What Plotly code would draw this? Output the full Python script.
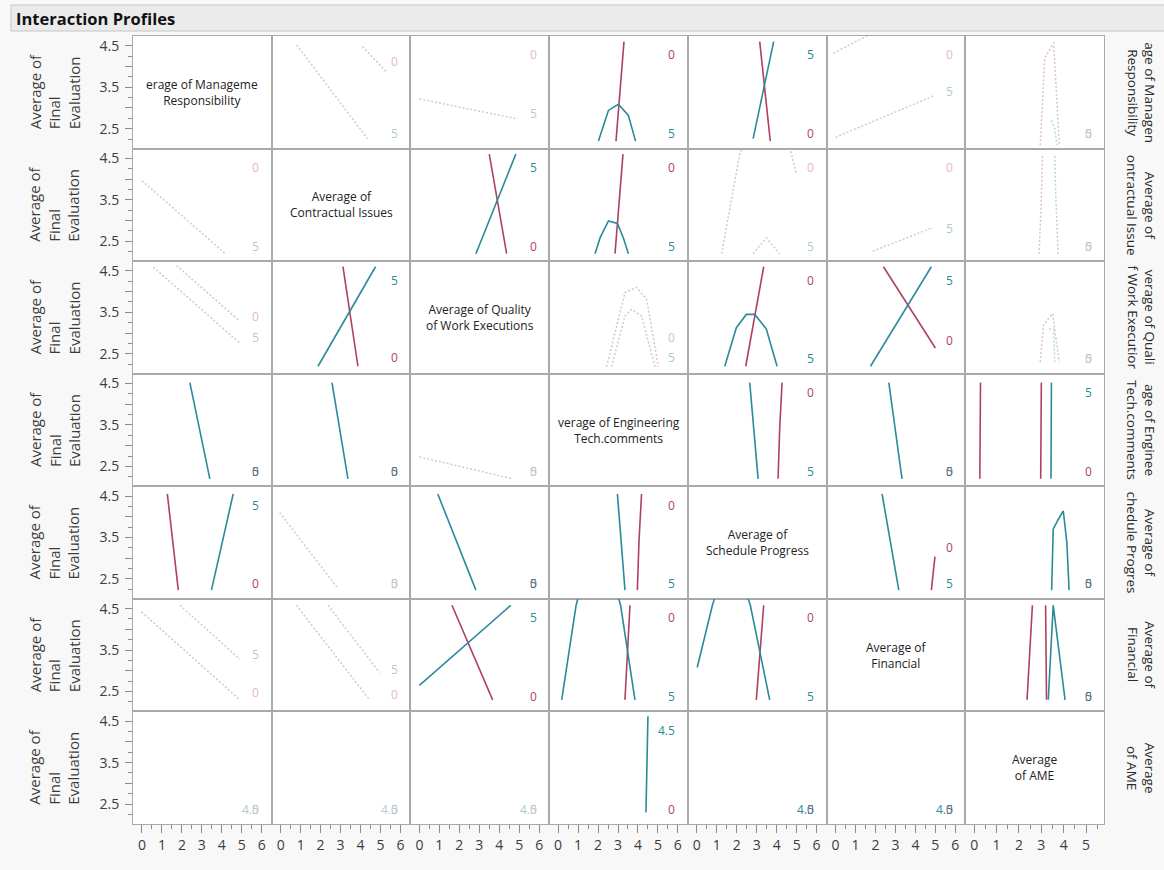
import plotly.graph_objects as go
from plotly.subplots import make_subplots

# ---------------- data ----------------
FACTORS = ["Management Responsibility", "Contractual Issues", "Quality of Work Executions",
           "Engineering Tech.comments", "Schedule Progress", "Financial", "AME"]
DIAG_TEXT = ["erage of Manageme<br>Responsibility", "Average of<br>Contractual Issues",
             "Average of Quality<br>of Work Executions", "verage of Engineering<br>Tech.comments",
             "Average of<br>Schedule Progress", "Average of<br>Financial", "Average<br>of AME"]
ROW_TITLES = ["age of Managen<br>Responsibility", "Average of<br>ontractual Issue",
              "verage of Quali<br>f Work Executior", "age of Enginee<br>Tech.comments",
              "Average of<br>chedule Progres", "Average of<br>Financial", "Average<br>of AME"]
Y_TITLE = "Average of<br>Final<br>Evaluation"
LEVELS = [("0", "5"), ("0", "5"), ("0", "5"), ("0", "5"), ("0", "5"), ("0", "5"), ("0", "4.5")]
Y_TICKS = [2.5, 3.0, 3.5, 4.0, 4.5]
Y_TICK_TEXT = ["2.5", "", "3.5", "", "4.5"]
Y_MINOR = [2.25, 2.75, 3.25, 3.75, 4.25]
X_TICKS = [0, 1, 2, 3, 4, 5, 6]
X_MINOR = [0.5, 1.5, 2.5, 3.5, 4.5, 5.5]
X_TICKS_AME = [0, 1, 2, 3, 4, 5]
X_MINOR_AME = [0.5, 1.5, 2.5, 3.5, 4.5, 5.5]

# each cell: col -> sig flag, low-level (red) line, high-level (blue) line, level-label values
ROW_MGMT = {
    1: dict(sig=False, red=([4.1, 5.3], [4.48, 3.87]), blue=([0.8, 4.35], [4.52, 2.26]), lab=(4.12, 2.38)),
    2: dict(sig=False, red=None, blue=([0.0, 4.85], [3.22, 2.74]), lab=(4.28, 2.86)),
    3: dict(sig=True, red=([2.9, 3.1, 3.3], [2.2, 3.4, 4.6]),
            blue=([2.02, 2.52, 3.02, 3.52, 3.88], [2.2, 2.94, 3.09, 2.82, 2.2]), lab=(4.28, 2.38)),
    4: dict(sig=True, red=([3.15, 3.68], [4.6, 2.2]), blue=([2.82, 3.85], [2.26, 4.6]), lab=(2.38, 4.28)),
    5: dict(sig=False, red=([-0.1, 4.95], [4.32, 5.58]), blue=([0.0, 4.95], [2.29, 3.3]), lab=(4.28, 3.4)),
    6: dict(sig=False, red=([2.95, 3.15, 3.55, 3.8], [2.1, 4.2, 4.57, 2.1]),
            blue=([3.45, 3.6, 3.7], [2.7, 2.5, 2.1]), lab=(2.38, 2.38)),
}
ROW_CONTRACT = {
    0: dict(sig=False, red=None, blue=([0.0, 4.15], [3.96, 2.21]), lab=(4.28, 2.38)),
    2: dict(sig=True, red=([3.5, 4.37], [4.6, 2.2]), blue=([2.83, 4.83], [2.2, 4.6]), lab=(2.38, 4.28)),
    3: dict(sig=True, red=([2.85, 3.05, 3.25], [2.2, 3.4, 4.6]),
            blue=([1.85, 2.1, 2.52, 2.97, 3.27, 3.52], [2.2, 2.58, 2.99, 2.93, 2.58, 2.2]), lab=(4.28, 2.38)),
    4: dict(sig=False, red=([1.24, 2.15, 3.5, 4.74, 4.98], [2.2, 4.6, 6.5, 4.6, 4.13]),
            blue=([2.82, 3.48, 4.15], [2.2, 2.58, 2.2]), lab=(4.28, 2.38)),
    5: dict(sig=False, red=None, blue=([1.87, 4.87], [2.26, 2.83]), lab=(4.28, 2.8)),
    6: dict(sig=False, red=([2.9, 3.0, 3.05], [2.2, 3.5, 4.6]), blue=([3.75, 3.65, 3.6], [2.2, 3.5, 4.6]),
            lab=(2.38, 2.38)),
}
ROW_QUALITY = {
    0: dict(sig=False, red=([1.73, 4.9], [4.63, 3.29]), blue=([0.57, 4.9], [4.59, 2.76]), lab=(3.41, 2.89)),
    1: dict(sig=True, red=([3.12, 3.87], [4.6, 2.2]), blue=([1.87, 4.75], [2.2, 4.6]), lab=(2.42, 4.28)),
    3: dict(sig=False, red=([2.43, 3.35, 3.93, 4.43, 5.02], [2.19, 3.98, 4.1, 3.82, 2.19]),
            blue=([2.68, 3.35, 3.68, 4.18, 4.85], [2.19, 3.41, 3.57, 3.41, 2.19]), lab=(2.9, 2.4)),
    4: dict(sig=True, red=([2.45, 3.35], [2.2, 4.6]),
            blue=([1.4, 1.98, 2.48, 2.9, 3.48, 4.02], [2.2, 3.13, 3.45, 3.45, 3.1, 2.2]), lab=(4.28, 2.38)),
    5: dict(sig=True, red=([2.4, 5.0], [4.6, 2.64]), blue=([1.75, 4.8], [2.2, 4.6]), lab=(2.83, 4.28)),
    6: dict(sig=False, red=([2.95, 3.1, 3.5, 3.8], [2.3, 3.2, 3.47, 2.3]),
            blue=([3.35, 3.55, 3.6], [3.1, 3.1, 2.3]), lab=(2.38, 2.38)),
}
ROW_ENGINEERING = {
    0: dict(sig=True, red=None, blue=([2.4, 3.4], [4.52, 2.2]), lab=(2.38, 2.38)),
    1: dict(sig=True, red=None, blue=([2.57, 3.37], [4.52, 2.2]), lab=(2.38, 2.38)),
    2: dict(sig=False, red=None, blue=([0.0, 4.67], [2.73, 2.2]), lab=(2.38, 2.38)),
    4: dict(sig=True, red=([4.07, 4.15, 4.27], [2.2, 3.4, 4.52]), blue=([2.65, 3.07], [4.52, 2.2]),
            lab=(4.28, 2.38)),
    5: dict(sig=True, red=None, blue=([2.67, 3.33], [4.52, 2.2]), lab=(2.38, 2.38)),
    6: dict(sig=True, red=([0.25, 0.28, None, 3.0, 2.97], [2.2, 4.52, None, 4.52, 2.2]),
            blue=([3.43, 3.45], [2.2, 4.52]), lab=(2.38, 4.28)),
}
ROW_SCHEDULE = {
    0: dict(sig=True, red=([1.27, 1.82], [4.55, 2.23]), blue=([3.48, 4.57], [2.23, 4.55]), lab=(2.38, 4.28)),
    1: dict(sig=False, red=None, blue=([-0.05, 2.87], [4.1, 2.27]), lab=(2.38, 2.38)),
    2: dict(sig=True, red=None, blue=([0.92, 2.83], [4.55, 2.23]), lab=(2.38, 2.38)),
    3: dict(sig=True, red=([3.97, 4.05, 4.18], [2.23, 3.4, 4.55]), blue=([2.97, 3.35], [4.55, 2.23]),
            lab=(4.28, 2.38)),
    5: dict(sig=True, red=([4.8, 4.98], [2.23, 3.04]), blue=([2.33, 3.17], [4.55, 2.23]), lab=(3.26, 2.4)),
    6: dict(sig=True, red=None,
            blue=([3.46, 3.53, 3.76, 3.98, 4.14, 4.24], [2.23, 3.7, 3.94, 4.14, 3.38, 2.23]), lab=(2.38, 2.38)),
}
ROW_FINANCIAL = {
    0: dict(sig=False, red=([-0.02, 4.9], [4.42, 2.3]), blue=([1.9, 4.9], [4.58, 3.28]), lab=(2.48, 3.4)),
    1: dict(sig=False, red=([0.79, 4.45], [4.58, 2.3]), blue=([2.37, 4.95], [4.58, 2.96]), lab=(2.43, 3.04)),
    2: dict(sig=True, red=([1.63, 3.67], [4.58, 2.3]), blue=([0.0, 4.58], [2.65, 4.58]), lab=(2.38, 4.28)),
    3: dict(sig=True, red=([3.35, 3.6], [2.3, 4.58]),
            blue=([0.18, 0.9, 2.0, 3.13, 3.85], [2.3, 4.58, 6.5, 4.58, 2.3]), lab=(4.28, 2.38)),
    4: dict(sig=True, red=([2.98, 3.35], [2.3, 4.58]),
            blue=([0.02, 0.78, 1.7, 2.68, 3.65], [3.08, 4.58, 6.0, 4.58, 2.3]), lab=(4.28, 2.38)),
    6: dict(sig=True, red=([2.36, 2.6, None, 3.23, 3.19], [2.3, 4.58, None, 2.3, 4.58]),
            blue=([3.31, 3.53, 4.06], [2.3, 4.58, 2.3]), lab=(2.38, 2.38)),
}
ROW_AME = {
    0: dict(sig=False, red=None, blue=None, lab=(2.38, 2.38)),
    1: dict(sig=False, red=None, blue=None, lab=(2.38, 2.38)),
    2: dict(sig=False, red=None, blue=None, lab=(2.38, 2.38)),
    3: dict(sig=True, red=None, blue=([4.4, 4.45, 4.5], [2.3, 3.5, 4.62]), lab=(2.38, 4.28)),
    4: dict(sig=True, red=None, blue=None, lab=(2.38, 2.38)),
    5: dict(sig=True, red=None, blue=None, lab=(2.38, 2.38)),
}
ROWS = [ROW_MGMT, ROW_CONTRACT, ROW_QUALITY, ROW_ENGINEERING, ROW_SCHEDULE, ROW_FINANCIAL, ROW_AME]

# ---------------- style ----------------
W, H = 1164, 870
ML, MR, MT, MB = 133, 60, 36, 46
N = 7
FONT = "Open Sans, Noto Sans, DejaVu Sans, sans-serif"
RED, BLUE = "#b0405e", "#2a8a9c"
RED_FAINT, BLUE_FAINT = "#dcc2c8", "#bfd2d7"
RED_LAB_FAINT, BLUE_LAB_FAINT = "#e8b6c0", "#aecbd4"
BORDER = "#a9a9a9"
TICKC = "#8a8a8a"
TXT = "#3c3c3c"
Y_RANGE = [2.02, 4.735]
X_RANGE = [-0.45, 6.5]
X_RANGE_AME = [-0.4, 5.8]


def px_x(px):
    return (px - ML) / (W - ML - MR)


def px_y(py):
    return 1 - (py - MT) / (H - MT - MB)


fig = make_subplots(rows=N, cols=N, horizontal_spacing=0, vertical_spacing=0)

annotations = []
for r in range(N):
    for c in range(N):
        k = r * N + c + 1
        xa = "x" if k == 1 else f"x{k}"
        ya = "y" if k == 1 else f"y{k}"
        ame_col = (c == N - 1)
        xrange_ = X_RANGE_AME if ame_col else X_RANGE
        xkw = dict(range=xrange_, showgrid=False, zeroline=False, showline=True, mirror=True,
                   linecolor=BORDER, linewidth=1, fixedrange=True)
        if r == N - 1:
            xkw.update(ticks="outside", ticklen=8, tickwidth=1, tickcolor=TICKC,
                       tickmode="array", tickvals=X_TICKS_AME if ame_col else X_TICKS,
                       tickfont=dict(size=14, color=TXT, family=FONT),
                       minor=dict(tickmode="array", tickvals=X_MINOR_AME if ame_col else X_MINOR,
                                  ticks="outside", ticklen=4, tickcolor=TICKC))
        else:
            xkw.update(showticklabels=False, ticks="")
        ykw = dict(range=Y_RANGE, showgrid=False, zeroline=False, showline=True, mirror=True,
                   linecolor=BORDER, linewidth=1, fixedrange=True)
        if c == 0:
            ykw.update(ticks="outside", ticklen=7, tickwidth=1, tickcolor=TICKC,
                       tickmode="array", tickvals=Y_TICKS, ticktext=Y_TICK_TEXT,
                       tickfont=dict(size=14, color=TXT, family=FONT), ticklabelstandoff=3,
                       minor=dict(tickmode="array", tickvals=Y_MINOR, ticks="outside",
                                  ticklen=4, tickcolor=TICKC))
        else:
            ykw.update(showticklabels=False, ticks="")
        fig.update_xaxes(row=r + 1, col=c + 1, **xkw)
        fig.update_yaxes(row=r + 1, col=c + 1, **ykw)

        # an empty trace so every cell (also the diagonal ones) is drawn
        fig.add_trace(go.Scatter(x=[None], y=[None], mode="lines", hoverinfo="skip",
                                 showlegend=False), row=r + 1, col=c + 1)

        if r == c:
            annotations.append(dict(text=DIAG_TEXT[r], xref=f"{xa} domain", yref=f"{ya} domain",
                                    x=0.5, y=0.5, showarrow=False,
                                    font=dict(size=12, color="#222222", family=FONT)))
            continue
        cell = ROWS[r].get(c)
        if cell is None:
            continue
        sig = cell["sig"]
        for key, col_s, col_f in (("red", RED, RED_FAINT), ("blue", BLUE, BLUE_FAINT)):
            line = cell[key]
            if line is None:
                continue
            xs, ys = line
            fig.add_trace(go.Scatter(
                x=xs, y=ys, mode="lines", hoverinfo="skip", showlegend=False,
                line=dict(color=col_s if sig else col_f, width=1.6 if sig else 1.5,
                          dash="solid" if sig else "2px,2px")),
                row=r + 1, col=c + 1)
        lo, hi = LEVELS[r]
        for lev, yv, col_s, col_f in ((lo, cell["lab"][0], RED, RED_LAB_FAINT),
                                      (hi, cell["lab"][1], BLUE, BLUE_LAB_FAINT)):
            annotations.append(dict(text=lev, xref=f"{xa} domain", yref=ya, x=0.925, y=yv,
                                    xanchor="right", yanchor="middle", showarrow=False,
                                    font=dict(size=12, color=col_s if sig else col_f, family=FONT)))

# row titles (left) and factor names (right)
for r in range(N):
    yc = 1 - (r + 0.5) / N
    annotations.append(dict(text=Y_TITLE, xref="paper", yref="paper", x=px_x(54), y=yc,
                            xanchor="center", yanchor="middle", textangle=-90, align="left",
                            showarrow=False, font=dict(size=15, color=TXT, family=FONT)))
    annotations.append(dict(text=ROW_TITLES[r], xref="paper", yref="paper", x=px_x(1141), y=yc,
                            xanchor="center", yanchor="middle", textangle=90, align="center",
                            showarrow=False, font=dict(size=13.5, color="#2a2a2a", family=FONT)))

# header
annotations.append(dict(text="<b>Interaction Profiles</b>", xref="paper", yref="paper",
                        x=px_x(14), y=px_y(18), xanchor="left", yanchor="middle", showarrow=False,
                        font=dict(size=16.5, color="#111111", family=FONT)))
shapes = [dict(type="rect", xref="paper", yref="paper", x0=px_x(11), x1=px_x(1166),
               y0=px_y(31), y1=px_y(5), fillcolor="#ebebeb", line=dict(color="#c4c4c4", width=1),
               layer="below")]

fig.update_layout(
    width=W, height=H, margin=dict(l=ML, r=MR, t=MT, b=MB),
    paper_bgcolor="#f8f8f8", plot_bgcolor="#ffffff",
    font=dict(family=FONT, color=TXT),
    annotations=annotations, shapes=shapes, showlegend=False,
)

fig.write_html("out.html", config={"displayModeBar": False},
               post_script="document.body.style.margin='0';document.body.style.overflow='hidden';")
